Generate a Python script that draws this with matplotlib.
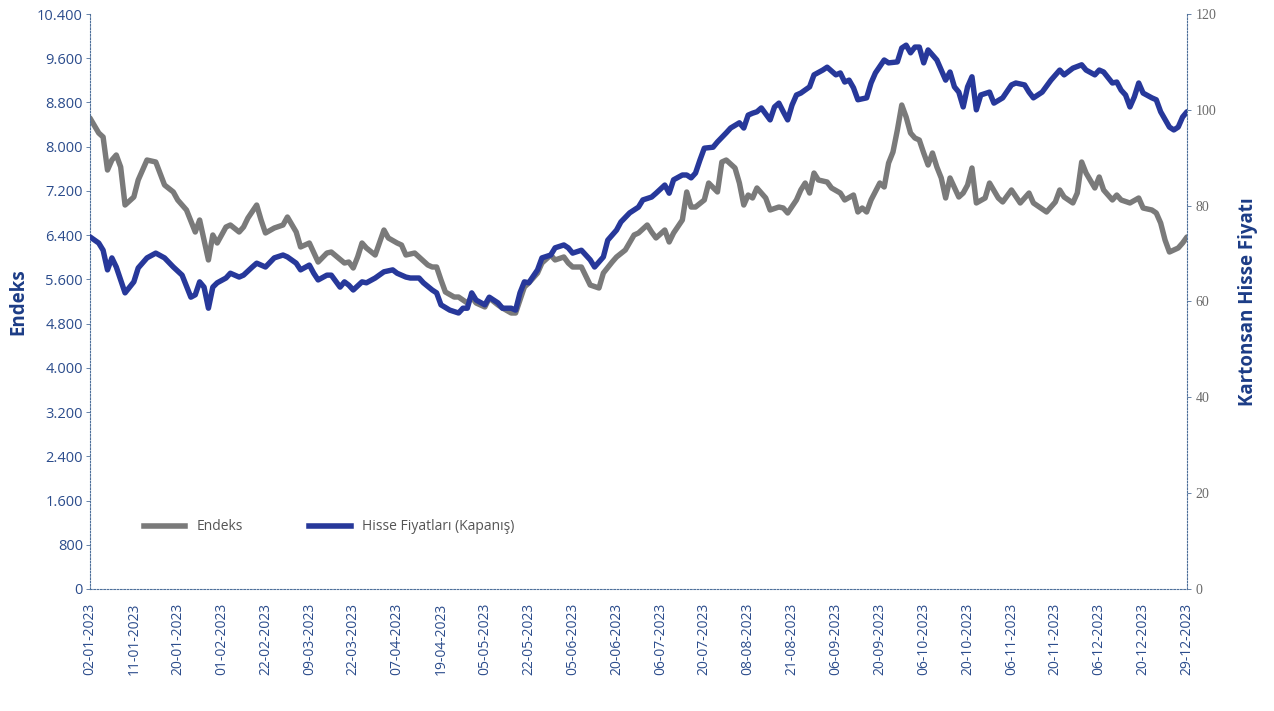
import matplotlib
matplotlib.use("Agg")
import matplotlib.pyplot as plt
from matplotlib.ticker import FixedLocator, FuncFormatter
from matplotlib.lines import Line2D

# ---------------- data ----------------
date_labels = ["02-01-2023", "11-01-2023", "20-01-2023", "01-02-2023", "22-02-2023",
               "09-03-2023", "22-03-2023", "07-04-2023", "19-04-2023", "05-05-2023",
               "22-05-2023", "05-06-2023", "20-06-2023", "06-07-2023", "20-07-2023",
               "08-08-2023", "21-08-2023", "06-09-2023", "20-09-2023", "06-10-2023",
               "20-10-2023", "06-11-2023", "20-11-2023", "06-12-2023", "20-12-2023",
               "29-12-2023"]
label_days = list(range(0, 251, 10))

endeks_days = [0, 2, 3, 4, 5, 6, 7, 8, 10, 11, 13, 15, 17, 19, 20, 22, 24, 25, 27, 28,
               29, 31, 32, 34, 35, 36, 38, 39, 40, 42, 44, 45, 47, 48, 50, 52, 54, 55, 58, 59,
               60, 61, 62, 63, 65, 67, 68, 70, 71, 72, 74, 75, 77, 78, 79, 80, 81, 83, 84, 85,
               86, 87, 88, 90, 91, 93, 94, 96, 97, 98, 99, 100, 102, 103, 105, 106, 108, 109, 110, 112,
               114, 116, 117, 119, 120, 122, 124, 125, 127, 128, 129, 131, 132, 133, 135, 136, 137, 138, 140, 141,
               143, 144, 145, 147, 148, 149, 150, 151, 152, 154, 155, 157, 158, 159, 161, 162, 163, 164, 165, 166,
               168, 169, 171, 172, 174, 175, 176, 177, 178, 180, 181, 182, 183, 184, 185, 186, 187, 188, 189, 190,
               191, 192, 193, 194, 195, 196, 198, 199, 200, 201, 202, 204, 205, 207, 208, 210, 212, 214, 215, 218,
               220, 221, 222, 224, 225, 226, 227, 229, 230, 231, 233, 234, 235, 237, 239, 240, 242, 243, 244, 245,
               246, 248, 249, 250]
endeks_vals = [8519, 8248, 8175, 7578, 7759, 7850, 7633, 6945, 7090, 7398, 7759, 7723, 7307, 7181, 7036, 6855, 6457, 6674, 5951, 6403,
               6258, 6547, 6584, 6457, 6547, 6710, 6945, 6674, 6439, 6529, 6584, 6728, 6457, 6186, 6258, 5914, 6077, 6095, 5896, 5914,
               5806, 6005, 6258, 6168, 6041, 6493, 6349, 6258, 6222, 6041, 6077, 6005, 5860, 5824, 5824, 5589, 5372, 5281, 5281, 5227,
               5173, 5281, 5173, 5101, 5263, 5137, 5082, 4992, 4992, 5227, 5462, 5535, 5715, 5896, 6041, 5951, 6005, 5896, 5824, 5824,
               5498, 5444, 5715, 5914, 6005, 6131, 6403, 6439, 6584, 6457, 6349, 6493, 6276, 6439, 6674, 7181, 6909, 6909, 7036, 7343,
               7181, 7723, 7759, 7615, 7343, 6945, 7126, 7072, 7253, 7072, 6855, 6909, 6891, 6801, 7036, 7217, 7343, 7162, 7524, 7398,
               7361, 7253, 7162, 7036, 7126, 6819, 6891, 6819, 7036, 7343, 7271, 7705, 7904, 8302, 8754, 8537, 8248, 8157, 8121, 7886,
               7669, 7886, 7633, 7434, 7072, 7434, 7090, 7162, 7307, 7615, 6982, 7072, 7343, 7072, 7000, 7217, 6982, 7162, 6982, 6819,
               7000, 7217, 7090, 6982, 7162, 7723, 7524, 7253, 7452, 7217, 7036, 7126, 7036, 6982, 7072, 6891, 6855, 6801, 6620, 6312,
               6095, 6168, 6258, 6367]

hisse_days = [0, 2, 3, 4, 5, 6, 8, 10, 11, 13, 15, 17, 19, 21, 23, 24, 25, 26, 27, 28,
              29, 31, 32, 34, 35, 37, 38, 40, 42, 44, 45, 47, 48, 50, 51, 52, 54, 55, 57, 58,
              59, 60, 62, 63, 65, 67, 69, 70, 72, 73, 75, 76, 78, 79, 80, 82, 84, 85, 86, 87,
              88, 90, 91, 93, 94, 96, 97, 98, 99, 100, 102, 103, 105, 106, 108, 109, 110, 112, 114, 115,
              117, 118, 120, 121, 123, 125, 126, 128, 129, 131, 132, 133, 135, 136, 137, 138, 139, 140, 142, 143,
              145, 146, 148, 149, 150, 151, 152, 153, 155, 156, 157, 158, 159, 160, 161, 162, 164, 165, 167, 168,
              170, 171, 172, 173, 174, 175, 177, 178, 179, 181, 182, 184, 185, 186, 187, 188, 189, 190, 191, 193,
              194, 195, 196, 197, 198, 199, 200, 201, 202, 203, 205, 206, 208, 210, 211, 213, 214, 215, 217, 219,
              221, 222, 224, 226, 227, 229, 230, 231, 233, 234, 235, 236, 237, 238, 239, 240, 242, 243, 244, 246,
              247, 248, 249, 250]
hisse_vals = [73.5, 72.2, 70.7, 66.6, 69.1, 67.2, 61.8, 64.1, 67.0, 69.1, 70.1, 69.1, 67.2, 65.5, 60.9, 61.4, 64.1, 63.0, 58.6, 63.0,
              63.9, 64.9, 65.9, 65.1, 65.5, 67.2, 68.0, 67.2, 69.1, 69.7, 69.3, 68.0, 66.6, 67.6, 65.9, 64.5, 65.5, 65.5, 63.0, 64.1,
              63.4, 62.4, 64.1, 63.9, 64.9, 66.2, 66.6, 65.9, 65.1, 64.9, 64.9, 63.9, 62.4, 61.8, 59.3, 58.2, 57.6, 58.6, 58.6, 61.8,
              60.3, 59.3, 60.9, 59.7, 58.6, 58.6, 58.2, 61.8, 64.1, 63.9, 66.6, 69.1, 69.7, 71.2, 71.8, 71.2, 70.1, 70.7, 68.7, 67.2,
              69.3, 72.8, 74.9, 76.6, 78.5, 79.7, 81.2, 81.8, 82.6, 84.3, 82.6, 85.4, 86.4, 86.4, 85.8, 86.8, 89.5, 92.0, 92.2, 93.3,
              95.2, 96.2, 97.3, 96.2, 98.9, 99.3, 99.6, 100.4, 97.9, 100.6, 101.4, 99.6, 97.9, 101.0, 103.1, 103.5, 104.8, 107.3, 108.3, 108.9,
              107.3, 107.7, 105.8, 106.2, 104.6, 102.1, 102.5, 105.6, 107.7, 110.4, 109.8, 110.0, 112.9, 113.5, 111.9, 113.1, 113.1, 109.8, 112.5, 110.4,
              108.3, 106.2, 107.9, 104.8, 103.7, 100.6, 104.8, 106.9, 100.0, 103.1, 103.7, 101.4, 102.5, 105.2, 105.6, 105.2, 103.7, 102.5, 103.7, 106.2,
              108.3, 107.3, 108.7, 109.4, 108.3, 107.3, 108.3, 107.9, 105.6, 105.8, 104.1, 103.1, 100.6, 102.7, 105.6, 103.5, 102.5, 102.1, 99.6, 96.4,
              95.8, 96.4, 98.5, 99.6]

left_ticks = [0, 800, 1600, 2400, 3200, 4000, 4800, 5600, 6400, 7200, 8000, 8800, 9600, 10400]
right_ticks = [0, 20, 40, 60, 80, 100, 120]

series_names = ["Endeks", "Hisse Fiyatları (Kapanış)"]

# ---------------- style ----------------
GRAY = "#7a7a7a"
BLUE = "#27389a"
NAVY = "#1c3c86"
TICK_BLUE = "#2b4c8c"
SPINE = "#4d6f9a"

plt.rcParams['font.family'] = ['Open Sans', 'DejaVu Sans']

fig = plt.figure(figsize=(12.74, 7.11), dpi=100)
ax = fig.add_axes([0.0706, 0.1716, 0.8611, 0.8087])
ax2 = ax.twinx()

ax.plot(endeks_days, endeks_vals, color=GRAY, lw=3.9, solid_joinstyle='round', solid_capstyle='round')
ax2.plot(hisse_days, hisse_vals, color=BLUE, lw=3.9, solid_joinstyle='round', solid_capstyle='round')

ax.set_xlim(0, 250)
ax.set_ylim(0, 10400)
ax2.set_ylim(0, 120)

ax.yaxis.set_major_locator(FixedLocator(left_ticks))
ax.yaxis.set_major_formatter(FuncFormatter(lambda v, p: f"{int(v):,}".replace(",", ".")))
ax2.yaxis.set_major_locator(FixedLocator(right_ticks))
ax2.yaxis.set_major_formatter(FuncFormatter(lambda v, p: f"{int(v)}"))

ax.set_xticks(label_days)
ax.set_xticklabels(date_labels, rotation=90, fontsize=10, color=TICK_BLUE)

ax.tick_params(axis='y', labelsize=10.5, labelcolor=TICK_BLUE, length=3, width=0.6, color=SPINE, pad=2)
ax.tick_params(axis='x', length=0, pad=10)
ax2.tick_params(axis='y', labelsize=10, labelcolor="#6a6a6a", length=3, width=0.6, color=SPINE, pad=3)
for lab in ax2.get_yticklabels():
    lab.set_fontfamily(['Liberation Serif', 'DejaVu Serif'])

for a in (ax, ax2):
    a.spines['top'].set_visible(False)
    for s in ('left', 'right', 'bottom'):
        a.spines[s].set_linestyle((0, (1.5, 1.5)))
        a.spines[s].set_color(SPINE)
        a.spines[s].set_linewidth(0.8)
ax.spines['right'].set_visible(False)
ax2.spines['left'].set_visible(False)
ax2.spines['bottom'].set_visible(False)

ax.set_ylabel("Endeks", fontsize=13.5, fontweight='bold', color=NAVY, labelpad=6)
ax2.set_ylabel("Kartonsan Hisse Fiyatı", fontsize=13.5, fontweight='bold', color=NAVY, labelpad=16)

handles = [Line2D([], [], color=GRAY, lw=4), Line2D([], [], color=BLUE, lw=4)]
leg = ax.legend(handles, series_names, loc='center', bbox_to_anchor=(0.218, 0.108), ncol=2,
                frameon=False, fontsize=10, handlelength=3.0, columnspacing=4.8, handletextpad=0.8)
for t in leg.get_texts():
    t.set_color("#555555")

fig.savefig("out.png", dpi=100, facecolor="white")
